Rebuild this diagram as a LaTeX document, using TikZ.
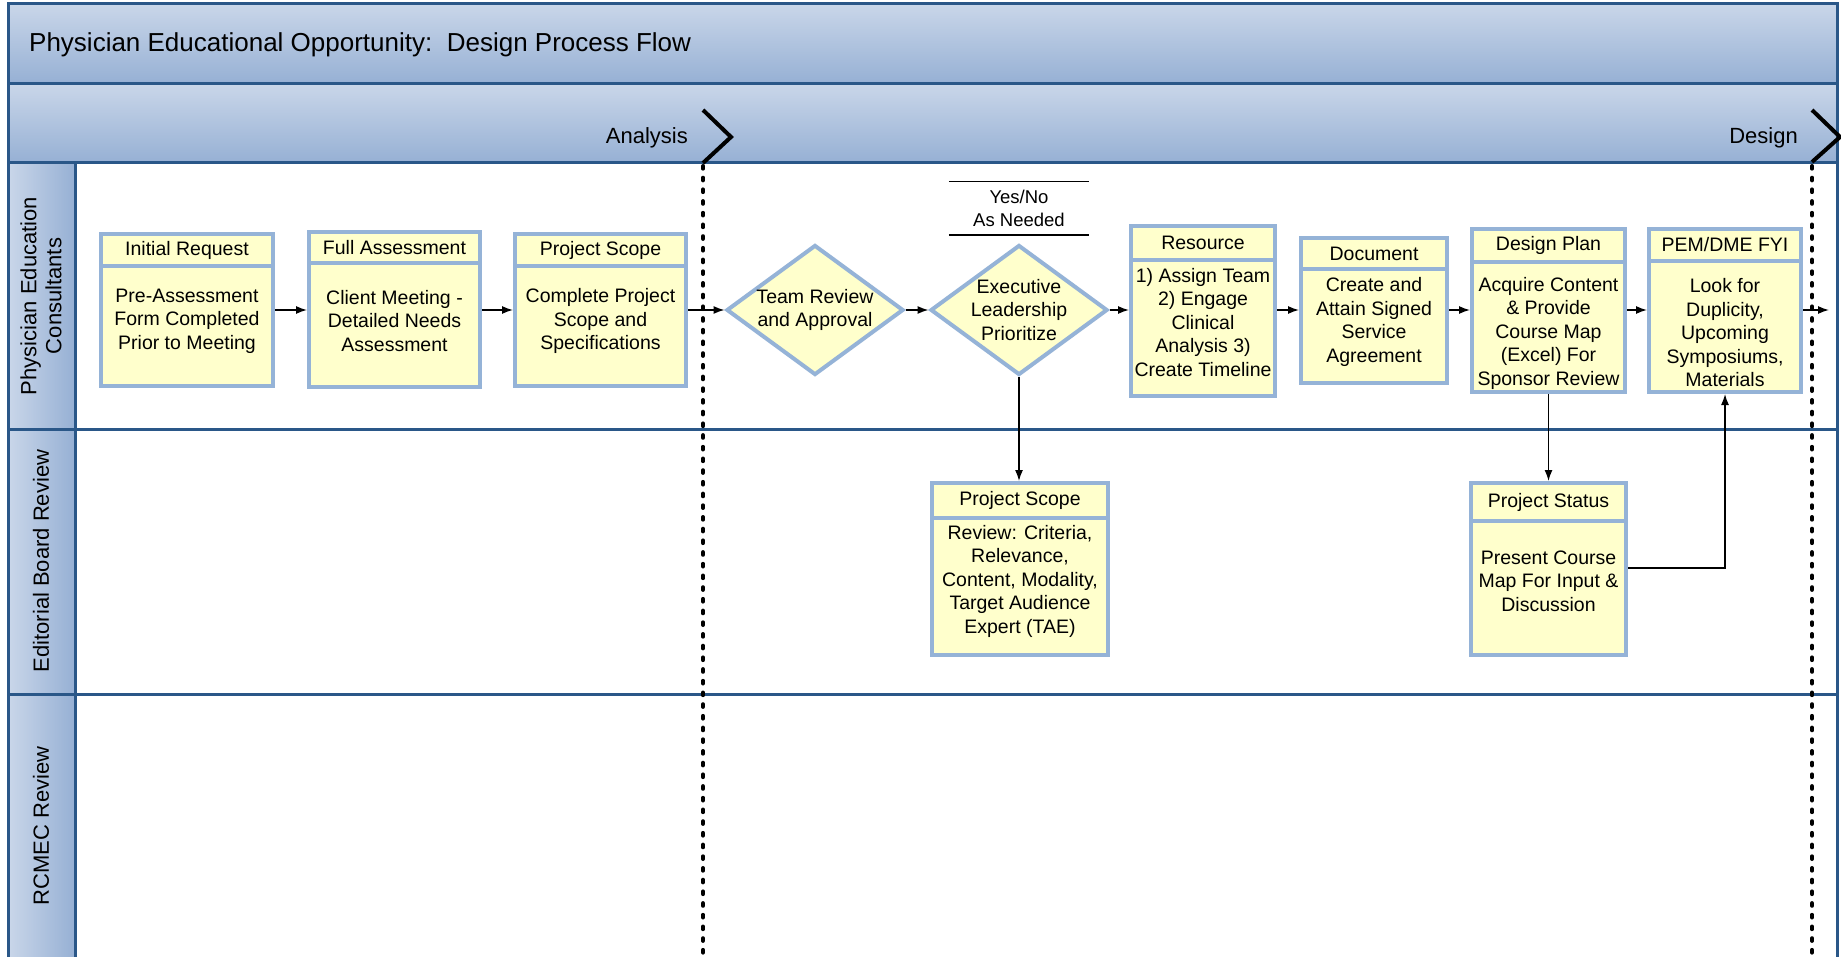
\documentclass[tikz,border=0pt]{standalone}
\usepackage{fontspec}
\setmainfont{Liberation Sans}
\usetikzlibrary{arrows.meta,shapes.geometric}
\definecolor{navy}{HTML}{2A5788}
\definecolor{bandlight}{HTML}{C9D6E9}
\definecolor{banddark}{HTML}{96B0D4}
\definecolor{boxline}{HTML}{95B3D7}
\definecolor{boxfill}{HTML}{FFFFCC}
\begin{document}
\begin{tikzpicture}[x=1pt,y=-1pt,
  hdrbox/.style={draw=boxline,fill=boxfill,line width=4pt,inner sep=0pt,font=\fontsize{19.5}{23.5}\selectfont},
  bodybox/.style={draw=boxline,fill=boxfill,line width=4pt,inner sep=0pt},
  bodytext/.style={align=center,inner sep=0pt,font=\fontsize{19.5}{23.5}\selectfont},
  decision/.style={diamond,draw=boxline,fill=boxfill,line width=4pt,inner sep=0pt,minimum width=177pt,minimum height=130pt},
  lanetext/.style={rotate=90,align=center,inner sep=0pt,font=\fontsize{22}{25}\selectfont},
  phasetext/.style={anchor=base east,inner sep=0pt,font=\fontsize{22}{26}\selectfont},
  arr/.style={line width=1.4pt,-{Latex[length=11pt,width=8pt]}},
  conn/.style={line width=1.4pt},
  chevron/.style={line width=4pt,line join=miter},
  milestone/.style={line width=4pt,line cap=round,dash pattern=on 2.7pt off 9pt},
  frame/.style={draw=navy,line width=3pt},
]
\useasboundingbox (0,0) rectangle (1841,957);
\begin{scope}
\clip (0,0) rectangle (1841,957);
% bands and lane header column
\shade[top color=bandlight,bottom color=banddark] (8.5,4) rectangle (1837,84);
\shade[top color=bandlight,bottom color=banddark] (8.5,84) rectangle (1837,163);
\shade[left color=bandlight,right color=banddark] (8.5,163) rectangle (75,970);
\fill[white] (75,163) rectangle (1837,970);
% frame lines
\draw[frame] (8.5,4) rectangle (1837,970);
\draw[frame] (8.5,84) -- (1837,84);
\draw[frame] (8.5,163) -- (1837,163);
\draw[frame] (75,163) -- (75,970);
\draw[frame] (8.5,429) -- (1837,429);
\draw[frame] (8.5,694) -- (1837,694);
% title
\node[anchor=base west,inner sep=0pt,font=\fontsize{26}{30}\selectfont] (title) at (29,52) {Physician Educational Opportunity:~~Design Process Flow};
% phases
\node[phasetext] (ph1) at (688,144) {Analysis};
\node[phasetext] (ph2) at (1798,144) {Design};
\draw[chevron] (703,110) -- (731,137) -- (703,163);
\draw[chevron] (1812,110) -- (1840,137) -- (1812,162);
\draw[milestone] (703,166) -- (703,960);
\draw[milestone] (1812,166) -- (1812,960);
% lane labels
\node[lanetext] (lane1) at (41,296) {Physician Education\\Consultants};
\node[lanetext] (lane2) at (41,561) {Editorial Board Review};
\node[lanetext] (lane3) at (41,826) {RCMEC Review};
% boxes lane 1
\node[hdrbox,minimum width=172pt,minimum height=32pt] (b1h) at (187,250) {Initial Request};
\node[bodybox,minimum width=172pt,minimum height=120pt] (b1) at (187,326) {};
\node[bodytext] (b1t) at (187,321) {Pre-Assessment\\Form Completed\\Prior to Meeting};

\node[hdrbox,minimum width=171pt,minimum height=31pt] (b2h) at (394.5,247.5) {Full Assessment};
\node[bodybox,minimum width=171pt,minimum height=124pt] (b2) at (394.5,325) {};
\node[bodytext] (b2t) at (394.5,321) {Client Meeting -\\Detailed Needs\\Assessment};

\node[hdrbox,minimum width=171pt,minimum height=32pt] (b3h) at (600.5,250) {Project Scope};
\node[bodybox,minimum width=171pt,minimum height=120pt] (b3) at (600.5,326) {};
\node[bodytext] (b3t) at (600.5,321) {Complete Project\\Scope and\\Specifications};

\node[decision] (d1) at (815,310) {};
\node[bodytext] (d1t) at (815,310) {Team Review\\and Approval};

\node[decision] (d2) at (1019,310) {};
\node[bodytext] (d2t) at (1019,310) {Executive\\Leadership\\Prioritize};

\node[align=center,inner sep=0pt,minimum width=140pt,minimum height=53pt,font=\fontsize{18.5}{23}\selectfont] (yn) at (1019,208.5) {Yes/No\\As Needed};
\draw[conn] (yn.north west) -- (yn.north east);
\draw[conn] (yn.south west) -- (yn.south east);

\node[hdrbox,minimum width=144pt,minimum height=34pt] (b4h) at (1203,243) {Resource};
\node[bodybox,minimum width=144pt,minimum height=136pt] (b4) at (1203,328) {};
\node[bodytext] (b4t) at (1203,322.5) {1) Assign Team\\2) Engage\\Clinical\\Analysis 3)\\Create Timeline};

\node[hdrbox,minimum width=146pt,minimum height=31pt] (b5h) at (1374,253.5) {Document};
\node[bodybox,minimum width=146pt,minimum height=114pt] (b5) at (1374,326) {};
\node[bodytext] (b5t) at (1374,322) {Create and\\Attain Signed\\Service\\Agreement};

\node[hdrbox,minimum width=153pt,minimum height=33pt] (b6h) at (1548.5,245.5) {Design Plan};
\node[bodybox,minimum width=153pt,minimum height=130pt] (b6) at (1548.5,327) {};
\node[bodytext] (b6t) at (1548.5,333) {Acquire Content\\\& Provide\\Course Map\\(Excel) For\\Sponsor Review};

\node[hdrbox,minimum width=152pt,minimum height=32pt] (b7h) at (1725,245) {PEM/DME FYI};
\node[bodybox,minimum width=152pt,minimum height=131pt] (b7) at (1725,326.5) {};
\node[bodytext] (b7t) at (1725,333) {Look for\\Duplicity,\\Upcoming\\Symposiums,\\Materials};

% boxes lane 2
\node[hdrbox,minimum width=176pt,minimum height=35pt] (b8h) at (1020,500.5) {Project Scope};
\node[bodybox,minimum width=176pt,minimum height=137pt] (b8) at (1020,586.5) {};
\node[bodytext] (b8t) at (1020,581) {Review: Criteria,\\Relevance,\\Content, Modality,\\Target Audience\\Expert (TAE)};

\node[hdrbox,minimum width=155pt,minimum height=38pt] (b9h) at (1548.5,502) {Project Status};
\node[bodybox,minimum width=155pt,minimum height=134pt] (b9) at (1548.5,588) {};
\node[bodytext] (b9t) at (1548.5,581) {Present Course\\Map For Input \&\\Discussion};

% connectors
\draw[arr] (b1.east |- d1) -- (b2.west |- d1);
\draw[arr] (b2.east |- d1) -- (b3.west |- d1);
\draw[arr] (b3.east |- d1) -- (d1.west);
\draw[arr] (d1.east) -- (d2.west);
\draw[arr] (d2.east) -- (b4.west |- d2);
\draw[arr] (b4.east |- d1) -- (b5.west |- d1);
\draw[arr] (b5.east |- d1) -- (b6.west |- d1);
\draw[arr] (b6.east |- d1) -- (b7.west |- d1);
\coordinate (exit) at (1829,310);
\draw[arr] (b7.east |- d1) -- (exit);
\draw[arr] (d2.south) -- (d2.south |- b8h.north);
\draw[arr] (b6.south) -- (b9h.north);
\draw[arr] ([yshift=20pt]b9.east) -| (b7.south);
\end{scope}
\end{tikzpicture}
\end{document}
